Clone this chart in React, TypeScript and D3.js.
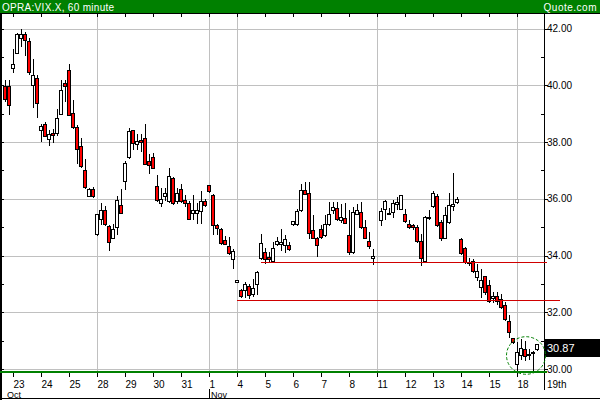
import React from 'react';
import * as d3 from 'd3';

// hourly VIX bars: [open, high, low, close]; null = missing bar
const bars: ([number, number, number, number] | null)[] = [
  [39.96, 40.2, 39.45, 39.53], [39.96, 40.17, 38.97, 39.31],
  // Oct 23
  [40.62, 41.26, 40.47, 40.74], [41.15, 41.85, 41.12, 41.8], [41.65, 42.0, 41.37, 41.82], [41.82, 41.88, 41.06, 41.61],
  [41.56, 41.65, 40.41, 40.45], [40.02, 40.94, 39.23, 40.37], [40.27, 40.35, 38.88, 39.39],
  // Oct 24
  [38.43, 38.62, 38.03, 38.55], [38.64, 38.7, 38.2, 38.22], [38.09, 38.41, 37.88, 38.29], [38.33, 38.47, 38.0, 38.26],
  [38.32, 39.17, 38.23, 38.86], [39.0, 40.2, 38.97, 39.82], [40.09, 40.2, 39.44, 39.96],
  // Oct 25
  [40.55, 40.74, 38.94, 38.96], [39.03, 39.47, 38.5, 38.53], [38.53, 38.59, 37.26, 37.76], [37.85, 38.15, 37.12, 37.15],
  [37.02, 37.41, 36.39, 36.41], [36.09, 36.38, 36.08, 36.35], [36.35, 36.41, 36.07, 36.09],
  // Oct 28
  [34.76, 35.47, 34.74, 35.45], [35.27, 35.86, 35.12, 35.59], [35.61, 35.73, 35.08, 35.12], [35.04, 35.06, 34.2, 34.47],
  [34.62, 35.12, 34.6, 34.94], [35.0, 36.08, 34.77, 35.94], [35.77, 36.33, 35.5, 35.51],
  // Oct 29
  [36.61, 37.33, 36.35, 37.27], [37.48, 38.5, 37.45, 38.39], [38.41, 38.43, 37.76, 37.98], [37.94, 38.29, 37.76, 38.03],
  [38.08, 38.29, 37.67, 38.0], [38.15, 38.62, 37.21, 37.24], [37.33, 37.59, 36.92, 37.18],
  // Oct 30
  [37.47, 37.62, 37.07, 37.09], [36.44, 36.85, 35.91, 35.94], [35.86, 36.38, 35.74, 36.0], [36.1, 36.38, 35.95, 36.21],
  [35.91, 37.08, 35.88, 36.79], [36.74, 36.76, 35.82, 35.86], [35.92, 36.39, 35.86, 36.21],
  // Oct 31
  [36.35, 36.53, 35.88, 35.92], [35.97, 36.12, 35.74, 35.86], [35.86, 35.91, 35.27, 35.29], [35.51, 36.12, 35.27, 35.59],
  [35.51, 35.86, 35.15, 35.59], [35.57, 36.26, 35.15, 35.92], [35.91, 36.0, 35.74, 35.77],
  // Nov 1
  [36.47, 36.5, 36.24, 36.26], [36.14, 36.16, 34.77, 35.08], [35.08, 35.12, 34.77, 34.97], [34.92, 34.98, 34.42, 34.45],
  [34.53, 34.69, 34.4, 34.42], [34.33, 34.65, 34.06, 34.1], [33.89, 34.24, 33.56, 34.16],
  // Nov 4
  [33.06, 33.15, 33.05, 33.14], [32.79, 32.83, 32.53, 32.56], [32.77, 33.06, 32.53, 33.0], [32.92, 33.0, 32.5, 32.62],
  [32.63, 33.18, 32.57, 32.86], [33.0, 33.47, 32.65, 33.41], [33.91, 34.77, 33.89, 34.45],
  // Nov 5
  [34.14, 34.26, 33.74, 33.89], [33.94, 34.12, 33.79, 33.89], [33.79, 34.47, 33.77, 34.26], [34.39, 34.65, 34.36, 34.51],
  [34.41, 34.94, 34.18, 34.47], [34.36, 34.71, 34.12, 34.59], [34.36, 34.47, 34.18, 34.24],
  // Nov 6
  [35.1, 35.2, 35.08, 35.2], [35.12, 35.65, 35.08, 35.56], [35.59, 36.53, 35.57, 36.3], [36.3, 36.59, 36.15, 36.18],
  [36.21, 36.59, 34.62, 34.8], [34.89, 35.41, 34.6, 34.63], [34.63, 34.65, 33.98, 34.36],
  // Nov 7
  [34.94, 35.06, 34.62, 34.65], [34.73, 35.41, 34.7, 35.12], [35.1, 35.88, 35.06, 35.47], [35.59, 35.88, 35.5, 35.71],
  [35.68, 35.88, 35.24, 35.27], [35.26, 35.82, 35.18, 35.35], [35.32, 35.85, 35.13, 35.15],
  // Nov 8
  [34.71, 35.59, 34.04, 34.12], [34.12, 35.71, 34.1, 35.55], [35.47, 35.82, 35.45, 35.59], [35.55, 35.88, 34.98, 35.02],
  [35.02, 35.26, 34.6, 34.62], [34.5, 34.82, 34.27, 34.35], [33.92, 34.24, 33.71, 33.99],
  // Nov 11
  null, [35.24, 35.68, 35.06, 35.57], [35.65, 35.97, 35.27, 35.92], [35.5, 35.68, 35.45, 35.5],
  [35.53, 35.94, 35.35, 35.85], [35.82, 36.06, 35.65, 35.88], [35.65, 36.14, 35.63, 36.12],
  // Nov 12
  [35.47, 35.65, 35.18, 35.21], [35.12, 35.24, 34.98, 35.02], [35.06, 35.1, 34.95, 35.0], [35.0, 35.06, 34.48, 34.51],
  [34.51, 34.77, 33.65, 33.92], [33.8, 35.38, 33.78, 35.35], [35.35, 35.59, 35.3, 35.35],
  // Nov 13
  [35.73, 36.27, 35.7, 36.2], [36.08, 36.18, 35.03, 35.06], [35.18, 35.26, 34.53, 34.62], [34.62, 35.71, 34.6, 35.41],
  [35.18, 36.2, 35.15, 35.77], [35.73, 36.9, 35.6, 35.82], [35.88, 36.05, 35.85, 35.98],
  // Nov 14
  [34.57, 34.6, 34.06, 34.1], [34.27, 34.3, 33.75, 33.77], [33.77, 33.9, 33.65, 33.72], [33.79, 33.89, 33.42, 33.44],
  [33.24, 33.71, 33.12, 33.45], [32.89, 33.53, 32.53, 33.15], [33.27, 33.29, 32.65, 32.71],
  // Nov 15
  [32.97, 33.12, 32.36, 32.38], [32.5, 32.71, 32.36, 32.57], [32.56, 32.71, 32.3, 32.38], [32.47, 32.65, 32.15, 32.18],
  [32.24, 32.36, 31.71, 31.75], [31.69, 31.89, 31.12, 31.32], [31.09, 31.1, 30.93, 30.95],
  // Nov 18
  [30.18, 30.95, 29.91, 30.59], [30.48, 31.04, 30.36, 30.75], [30.71, 31.0, 30.33, 30.45], [30.54, 30.71, 30.36, 30.5],
  [30.6, 30.62, 29.91, 30.6], [30.69, 30.87, 30.67, 30.87],
];

const dayLabels = ['23', '24', '25', '28', '29', '30', '31', '1', '4', '5', '6', '7', '8', '11', '12', '13', '14', '15', '18'];
const barsPerDay = 7;
const firstDaySlot = 2;
const gridDays = [3, 7, 8, 13, 18]; // Mondays and month start
const months = [{ label: 'Oct', slot: 0, line: false }, { label: 'Nov', slot: 51, line: true }];
const priceTicks = [30, 32, 34, 36, 38, 40, 42];
const minorTicks = [31, 33, 35, 37, 39, 41];
const trendLines = [{ price: 33.78, from: 64, to: 135.5 }, { price: 32.44, from: 58, to: 138.8 }];
const lastPrice = 30.87;

const W = 600;
const H = 400;
const green = '#008000';
const font = '"Liberation Sans", Arial, sans-serif';

export default function App() {
  const x = d3.scaleLinear().domain([0, 135]).range([5, 545]);
  const y = d3.scaleLinear().domain([30, 42]).range([369, 28.5]);
  const right = 544.5;
  const top = 13.5;
  const bottom = 372;
  const dayX = (k: number) => x(firstDaySlot + k * barsPerDay);
  const py = (v: number) => Math.round(y(v)) + 0.5;

  return (
    <svg width={W} height={H} style={{ position: 'absolute', left: 0, top: 0, display: 'block' }}
      fontFamily={font}>
      <rect width={W} height={H} fill="#fff" />
      {/* header */}
      <rect x={0} y={0} width={W} height={13} fill={green} />
      <text x={2} y={10.5} fill="#fff" fontSize={10} letterSpacing={0.3}>OPRA:VIX.X, 60 minute</text>
      <text x={597} y={10.5} fill="#fff" fontSize={10} textAnchor="end" letterSpacing={0.5}>Quote.com</text>

      <g shapeRendering="crispEdges">
        {/* grid */}
        {priceTicks.map(p => (
          <line key={'g' + p} x1={1} x2={right} y1={py(p)} y2={py(p)} stroke="#c0c0c0" />
        ))}
        {gridDays.map(k => (
          <line key={'v' + k} x1={dayX(k) + 0.5} x2={dayX(k) + 0.5} y1={top} y2={bottom} stroke="#c0c0c0" />
        ))}
        {/* frame */}
        <line x1={0} x2={W} y1={top} y2={top} stroke="#000" />
        <rect x={0} y={top} width={2} height={H - top} fill="#000" />
        <line x1={right} x2={right} y1={top} y2={390} stroke="#000" />
        <line x1={0} x2={W} y1={398.5} y2={398.5} stroke="#000" />
        {/* axis ticks */}
        {priceTicks.concat(minorTicks).map(p => (
          <line key={'l' + p} x1={0} x2={4} y1={py(p)} y2={py(p)} stroke="#000" />
        ))}
        {minorTicks.map(p => (
          <line key={'m' + p} x1={541} x2={right} y1={py(p)} y2={py(p)} stroke="#000" />
        ))}
        {priceTicks.map(p => (
          <line key={'r' + p} x1={right} x2={548} y1={py(p)} y2={py(p)} stroke="#000" />
        ))}
        {dayLabels.map((d, k) => (
          <g key={'t' + k}>
            <line x1={dayX(k) + 0.5} x2={dayX(k) + 0.5} y1={top} y2={top + 3} stroke="#000" />
            <line x1={dayX(k) + 0.5} x2={dayX(k) + 0.5} y1={bottom} y2={bottom + 5} stroke="#000" />
          </g>
        ))}

        {/* candles */}
        {bars.map((b, i) => {
          if (!b) return null;
          const [o, h, l, c] = b;
          const cx = x(i);
          const t = py(Math.max(o, c));
          const bt = py(Math.min(o, c));
          return (
            <g key={i}>
              <line x1={cx + 0.5} x2={cx + 0.5} y1={Math.round(y(h))} y2={Math.round(y(l)) + 1} stroke="#000" />
              <rect x={cx - 1.5} y={t} width={3} height={Math.max(bt - t, 1)}
                fill={c < o ? '#ff0000' : '#fff'} stroke="#000" />
            </g>
          );
        })}

        {/* trend lines */}
        {trendLines.map((t, i) => (
          <line key={'tr' + i} x1={x(t.from)} x2={x(t.to)} y1={py(t.price)} y2={py(t.price)} stroke="#d00000" />
        ))}

        {/* bottom green line */}
        <rect x={0} y={bottom - 1} width={right + 2} height={2} fill={green} />

        {/* last price box */}
        <rect x={right} y={339} width={W - right} height={18} fill="#000" />
        {months.filter(m => m.line).map(m => (
          <line key={'ml' + m.label} x1={x(m.slot) + 0.5} x2={x(m.slot) + 0.5} y1={389} y2={398} stroke="#000" />
        ))}
      </g>

      <ellipse cx={526} cy={355.5} rx={19.5} ry={18.8} fill="none" stroke={green} strokeDasharray="3,2" />

      {/* labels */}
      {priceTicks.map(p => (
        <text key={'pl' + p} x={547} y={y(p) + 3.5} fontSize={10}>{p.toFixed(2)}</text>
      ))}
      <text x={547} y={352} fontSize={11} fill="#fff">{lastPrice.toFixed(2)}</text>
      {dayLabels.map((d, k) => (
        <text key={'dl' + k} x={dayX(k) + 0.5} y={388} fontSize={10}>{d}</text>
      ))}
      <text x={547} y={388} fontSize={10}>19th</text>
      {months.map(m => (
        <text key={'mo' + m.label} x={x(m.slot) + 2} y={397.5} fontSize={9}>{m.label}</text>
      ))}
    </svg>
  );
}
